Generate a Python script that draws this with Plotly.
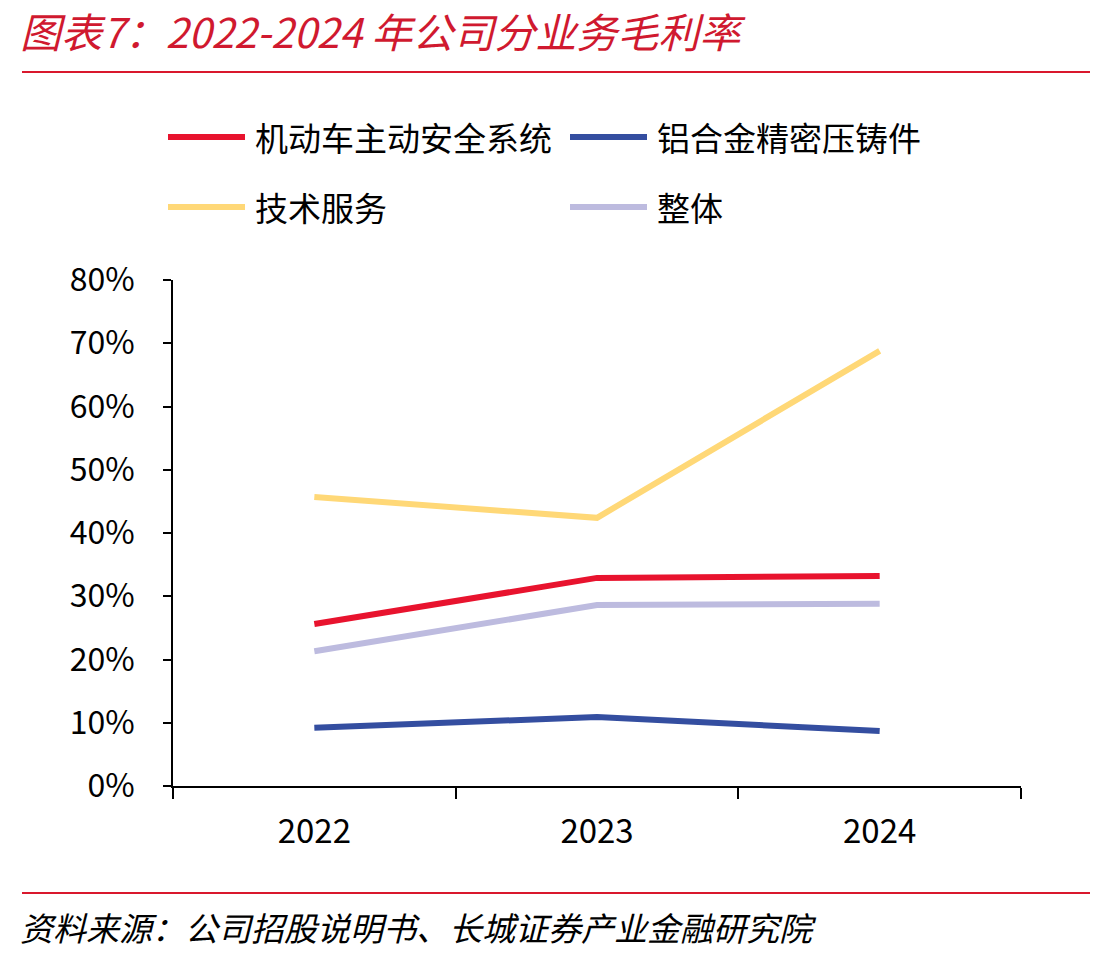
import plotly.graph_objects as go

years = ["2022", "2023", "2024"]
series_names = ["机动车主动安全系统", "铝合金精密压铸件", "技术服务", "整体"]
auto_safety = [25.6, 32.9, 33.2]
alu_casting = [9.2, 10.9, 8.7]
tech_service = [45.7, 42.4, 68.8]
overall = [21.3, 28.6, 28.8]
colors = ["#E8132E", "#344EA0", "#FFD877", "#BDBBDF"]
y_ticks = [0, 10, 20, 30, 40, 50, 60, 70, 80]
y_tick_text = [f"{v}%" for v in y_ticks]

title_text = "图表7：2022-2024 年公司分业务毛利率"
source_text = "资料来源：公司招股说明书、长城证券产业金融研究院"

FONT = "Noto Sans CJK SC"
W, H = 1113, 959
L, R, T, B = 173, 1021, 280, 786

def px(x):
    return (x - L) / (R - L)

def py(y):
    return (B - y) / (B - T)

fig = go.Figure()
for name, vals, c in zip(series_names, [auto_safety, alu_casting, tech_service, overall], colors):
    fig.add_trace(go.Scatter(x=years, y=vals, mode="lines", name=name,
                             line=dict(color=c, width=6), showlegend=False))

shapes = []
annotations = []

shapes.append(dict(type="line", xref="paper", yref="paper", x0=px(22), x1=px(1090), y0=py(72), y1=py(72),
                   line=dict(color="#D9182D", width=2)))
shapes.append(dict(type="line", xref="paper", yref="paper", x0=px(22), x1=px(1090), y0=py(893), y1=py(893),
                   line=dict(color="#D9182D", width=2)))

annotations.append(dict(text=f"<i>{title_text}</i>", xref="paper", yref="paper", x=px(18), y=py(30),
                        xanchor="left", yanchor="middle", showarrow=False,
                        font=dict(family=FONT, size=41, color="#D0192F")))
annotations.append(dict(text=f"<i>{source_text}</i>", xref="paper", yref="paper", x=px(18), y=py(927),
                        xanchor="left", yanchor="middle", showarrow=False,
                        font=dict(family=FONT, size=33, color="#000000")))

leg_pos = [(168, 137), (570, 137), (168, 207), (570, 207)]
for (lx, ly), name, c in zip(leg_pos, series_names, colors):
    shapes.append(dict(type="line", xref="paper", yref="paper", x0=px(lx), x1=px(lx + 77), y0=py(ly), y1=py(ly),
                       line=dict(color=c, width=6)))
    annotations.append(dict(text=name, xref="paper", yref="paper", x=px(lx + 85), y=py(ly),
                            xanchor="left", yanchor="middle", showarrow=False,
                            font=dict(family=FONT, size=33, color="#000000")))

fig.update_layout(
    width=W, height=H,
    margin=dict(l=L, r=W - R, t=T, b=H - B, pad=0),
    paper_bgcolor="white", plot_bgcolor="white",
    showlegend=False,
    shapes=shapes, annotations=annotations,
    xaxis=dict(type="category", range=[-0.5, 2.5], tickson="boundaries", ticks="outside", ticklen=11,
               tickwidth=1.5, tickcolor="#000", showline=True, linecolor="#000", linewidth=1.5,
               showgrid=False, tickfont=dict(family=FONT, size=33, color="#000"),
               ticklabelstandoff=16, zeroline=False),
    yaxis=dict(range=[0, 80], tickvals=y_ticks, ticktext=y_tick_text, ticks="outside", ticklen=8,
               tickwidth=1.5, tickcolor="#000", showline=True, linecolor="#000", linewidth=1.5,
               showgrid=False, zeroline=False, tickfont=dict(family=FONT, size=32, color="#000"),
               ticklabelstandoff=22),
)

fig.write_html("out.html")
